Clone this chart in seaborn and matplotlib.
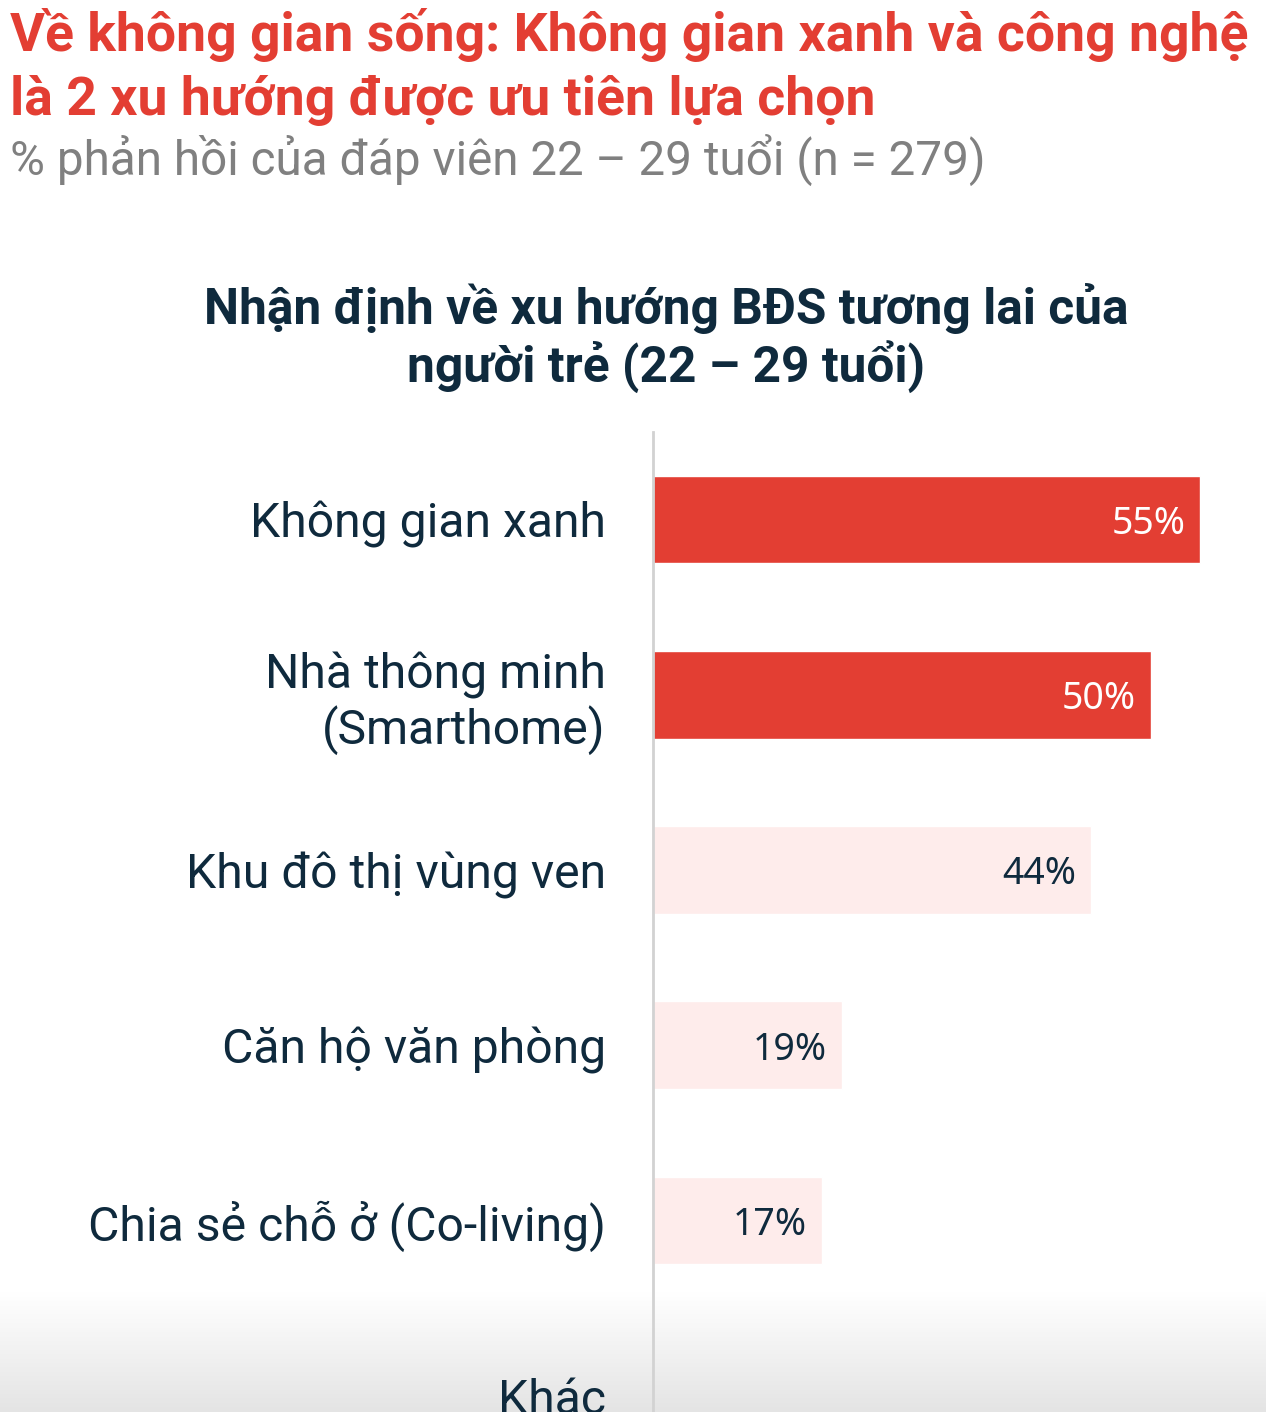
import matplotlib
matplotlib.use("Agg")
import matplotlib.pyplot as plt
import seaborn as sns
import numpy as np
import pandas as pd
from matplotlib.colors import LinearSegmentedColormap

categories = ["Không gian xanh", "Nhà thông minh\n(Smarthome)", "Khu đô thị vùng ven",
              "Căn hộ văn phòng", "Chia sẻ chỗ ở (Co-living)", "Khác"]
values = [55, 50, 44, 19, 17, 0]
highlight = ["top", "top", "other", "other", "other", "other"]
value_labels = ["55%", "50%", "44%", "19%", "17%", ""]

title = "Về không gian sống: Không gian xanh và công nghệ\nlà 2 xu hướng được ưu tiên lựa chọn"
subtitle = "% phản hồi của đáp viên 22 – 29 tuổi (n = 279)"
chart_title = "Nhận định về xu hướng BĐS tương lai của\nngười trẻ (22 – 29 tuổi)"

RED = "#E33E33"
PINK = "#FEECEB"
NAVY = "#0F2A3D"
GRAY = "#808080"

sns.set_theme(style="white")
plt.rcParams["font.family"] = ["Roboto", "DejaVu Sans"]

df = pd.DataFrame({"cat": categories, "val": values, "grp": highlight})

W, H = 1266, 1412
fig = plt.figure(figsize=(W / 100, H / 100), dpi=100)
fig.patch.set_facecolor("white")

# bottom gradient background
bg = fig.add_axes([0, 0, 1, 1], zorder=0)
bg.set_xlim(0, 1)
bg.set_ylim(0, 1)
bg.axis("off")
grad = np.linspace(0, 1, 256).reshape(-1, 1)
cmap = LinearSegmentedColormap.from_list("g", ["#e4e4e4", "#ffffff"])
bg.imshow(grad, extent=[0, 1, 0, 120 / H], aspect="auto", cmap=cmap, origin="lower")

ax = fig.add_axes([653 / W, 0, 597 / W, 1 - 432 / H], zorder=1)
ax.patch.set_alpha(0)
sns.barplot(data=df, y="cat", x="val", hue="grp", palette={"top": RED, "other": PINK},
            width=0.5, dodge=False, legend=False, ax=ax, saturation=1)
ax.set_xlim(0, 60)
ax.set_ylim(5.094, -0.5)
ax.set_xlabel("")
ax.set_ylabel("")
ax.set_xticks([])
ax.tick_params(axis="y", length=0, pad=34)
for lab in ax.get_yticklabels():
    lab.set_fontsize(34.7)
    lab.set_color(NAVY)
    lab.set_fontfamily(["Roboto", "DejaVu Sans"])
    lab.set_linespacing(1.15)
for s in ["top", "right", "bottom"]:
    ax.spines[s].set_visible(False)
ax.spines["left"].set_color("#d2d2d2")
ax.spines["left"].set_linewidth(2)

for i, (v, t, g) in enumerate(zip(values, value_labels, highlight)):
    if t:
        ax.text(v - 1.5, i, t, ha="right", va="center_baseline", fontsize=27,
                color="white" if g == "top" else NAVY,
                family=["Noto Sans", "DejaVu Sans"])

fig.text(10 / W, 1 - 8 / H, title, ha="left", va="top", fontsize=38.5, fontweight="bold",
         color=RED, linespacing=1.32)
fig.text(10 / W, 1 - 134 / H, subtitle, ha="left", va="top", fontsize=34.3, color=GRAY)
fig.text(666 / W, 1 - 283 / H, chart_title, ha="center", va="top", fontsize=35.7,
         fontweight="bold", color=NAVY, linespacing=1.15)

fig.savefig("out.png", dpi=100)
